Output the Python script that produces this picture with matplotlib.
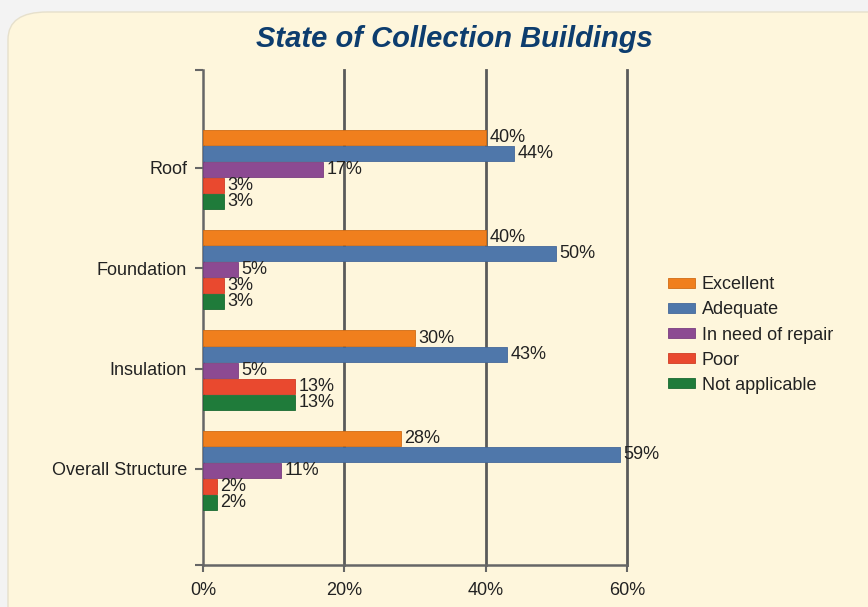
import matplotlib
matplotlib.use("Agg")
import matplotlib.pyplot as plt
from matplotlib.patches import FancyBboxPatch
import numpy as np

plt.rcParams['font.family'] = ['Liberation Sans', 'DejaVu Sans']

categories = ["Roof", "Foundation", "Insulation", "Overall Structure"]
series = ["Excellent", "Adequate", "In need of repair", "Poor", "Not applicable"]
excellent = [40, 40, 30, 28]
adequate = [44, 50, 43, 59]
repair = [17, 5, 5, 11]
poor = [3, 3, 13, 2]
not_applicable = [3, 3, 13, 2]
values = [excellent, adequate, repair, poor, not_applicable]
colors = ["#F07F1D", "#4F77AA", "#8C4A92", "#E9492F", "#1F7B3A"]
edge_colors = ["#D06C14", "#44689A", "#7A3E80", "#D03C24", "#196A31"]
xticks = [0, 20, 40, 60]
xtick_labels = ["0%", "20%", "40%", "60%"]

W, H = 868, 607
FS = 13
fig = plt.figure(figsize=(W / 100, H / 100), dpi=100)
fig.patch.set_facecolor("#F3F3F3")

panel = FancyBboxPatch((8 / W, -0.1), 1.2, 1.1 - 12 / H,
                       boxstyle="round,pad=0,rounding_size=0.045",
                       transform=fig.transFigure, facecolor="#FEF6DC",
                       edgecolor="#E6E0CC", linewidth=1, zorder=-5)
fig.patches.append(panel)

ax = fig.add_axes([203 / W, 1 - 565 / H, (627 - 203) / W, (565 - 70) / H])
ax.set_facecolor("none")
ax.set_zorder(2)

y = np.arange(len(categories))
step = 0.16
for k, (vals, c, ec, name) in enumerate(zip(values, colors, edge_colors, series)):
    pos = y + (k - 2) * step + 0.015
    ax.barh(pos, vals, height=0.15, color=c, edgecolor=ec, linewidth=0.6,
            label=name, zorder=3)
    for p, v in zip(pos, vals):
        ax.annotate(f"{v}%", (v, p), xytext=(2.5, 0), textcoords="offset points",
                    va="center", ha="left", fontsize=FS, color="#222222",
                    zorder=4)

ax.set_xlim(0, 60)
ax.set_ylim(3.958, -0.977)
ax.set_xticks(xticks)
ax.set_xticklabels(xtick_labels, fontsize=FS, color="#222222")
ax.set_yticks(y)
ax.set_yticklabels(categories, fontsize=FS, color="#222222")
ax.set_yticks([-0.977, 3.958], minor=True)
ax.tick_params(axis="y", which="both", length=6, width=1.5, color="#666666", pad=5.5)
ax.tick_params(axis="x", length=5, width=1.5, color="#666666", pad=7.5)

for x in xticks[1:]:
    ax.axvline(x, color="#5A5A5A", linewidth=2, zorder=2, clip_on=False)
for s in ["top", "right"]:
    ax.spines[s].set_visible(False)
for s in ["left", "bottom"]:
    ax.spines[s].set_color("#666666")
    ax.spines[s].set_linewidth(1.8)

fig.text(454 / W, 1 - 39 / H, "State of Collection Buildings",
         ha="center", va="center", fontsize=21, fontweight="bold",
         fontstyle="italic", color="#0D3D6E")

leg = fig.legend(loc="center left", bbox_to_anchor=(652 / W, 1 - 335 / H),
                 frameon=False, fontsize=13, handlelength=1.5,
                 handleheight=0.45, handletextpad=0.35, labelspacing=0.45)
for t in leg.get_texts():
    t.set_color("#222222")

fig.savefig("out.png", dpi=100, facecolor=fig.get_facecolor())
